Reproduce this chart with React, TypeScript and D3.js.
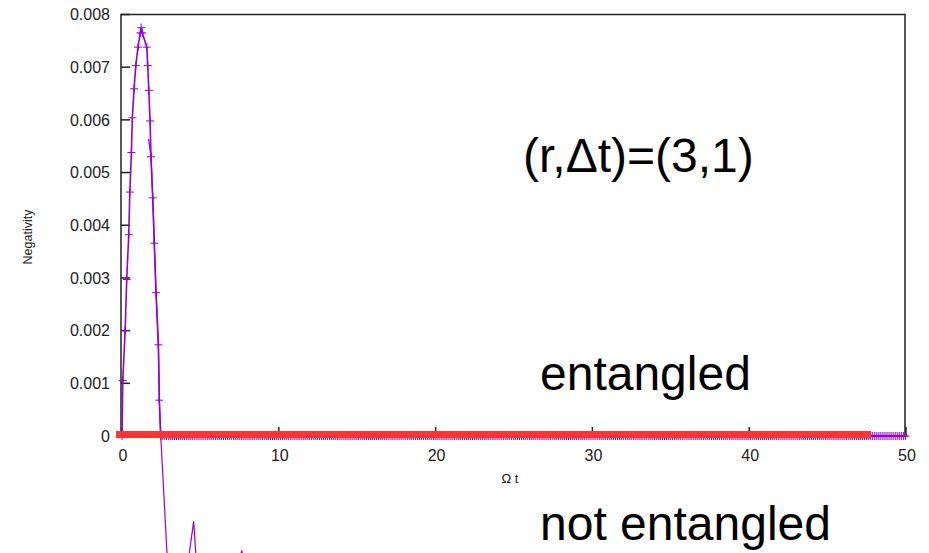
import React from "react";
import * as d3 from "d3";

// Negativity vs Ωt, main series (with + markers)
const peakX = [0, 0.05, 0.2, 0.3, 0.43, 0.5, 0.6, 0.66, 0.77, 0.88, 1.02, 1.17, 1.22, 1.3, 1.58, 1.64, 1.71, 1.79, 1.85, 1.96, 2.06, 2.17, 2.32, 2.38, 2.47];
const peakY = [0, 0.00105, 0.002, 0.00297, 0.00382, 0.00463, 0.00538, 0.00604, 0.00659, 0.00703, 0.00738, 0.00765, 0.00775, 0.00765, 0.00738, 0.00703, 0.00656, 0.00598, 0.0053, 0.00452, 0.00366, 0.00272, 0.00173, 0.00068, 0];
// after the crossing the series stays at zero, densely sampled
const zeroTailX = d3.range(2.6, 50.01, 0.125);

// thin line without markers (goes negative, below the frame)
const thinX = [1.69, 1.85, 1.96, 2.06, 2.17, 2.32, 2.38, 2.47, 3.0, 3.7, 4.57, 4.91, 6.25, 7.65, 7.91, 8.2];
const thinY = [0.00564, 0.0053, 0.00452, 0.00366, 0.00272, 0.00173, 0.00068, 0, -0.00295, -0.00352, -0.00162, -0.00314, -0.0035, -0.00217, -0.00333, -0.004];

// red "boundary" bar drawn over the zero level
const redBarX = [-0.38, 47.77];

const xTicks = [0, 10, 20, 30, 40, 50];
const yTicks = [0, 0.001, 0.002, 0.003, 0.004, 0.005, 0.006, 0.007, 0.008];

const W = 929;
const H = 553;
const PURPLE = "#9400d3";
const FONT = "'Liberation Sans', Arial, Helvetica, sans-serif";

export default function App() {
  const x = d3.scaleLinear().domain([0, 50]).range([122, 906]);
  const y = d3.scaleLinear().domain([0, 0.008]).range([436, 14.5]);

  const mainPts: [number, number][] = [
    ...peakX.map((v, i) => [v, peakY[i]] as [number, number]),
    ...zeroTailX.map((v) => [v, 0] as [number, number]),
  ];
  const thinPts: [number, number][] = thinX.map((v, i) => [v, thinY[i]]);

  const line = d3
    .line<[number, number]>()
    .x((d) => x(d[0]))
    .y((d) => y(d[1]));

  const left = x(0) - 1;
  const right = x(50) - 1;
  const top = y(0.008);
  const bottom = y(0);

  return (
    <div style={{ position: "fixed", left: 0, top: 0 }}>
      <svg width={W} height={H} style={{ display: "block", background: "#fff" }}>
        {/* frame */}
        <path
          d={`M${left},${bottom} L${left},${top} L${right},${top} L${right},${bottom} Z`}
          fill="none"
          stroke="#222"
          strokeWidth={1.5}
        />
        {/* y ticks */}
        {yTicks.map((t) => (
          <g key={t}>
            <line x1={left} x2={left + 9} y1={y(t)} y2={y(t)} stroke="#222" strokeWidth={1.5} />
            <text
              x={110}
              y={y(t)}
              dy="0.36em"
              textAnchor="end"
              fontFamily={FONT}
              fontSize={16}
              fill="#222"
            >
              {t === 0 ? "0" : t.toFixed(3)}
            </text>
          </g>
        ))}
        {/* x ticks */}
        {xTicks.map((t) => (
          <g key={t}>
            <line x1={x(t)} x2={x(t)} y1={bottom} y2={bottom - 9} stroke="#222" strokeWidth={1.5} />
            <text
              x={x(t) + 1}
              y={461}
              textAnchor="middle"
              fontFamily={FONT}
              fontSize={16}
              fill="#222"
            >
              {t}
            </text>
          </g>
        ))}
        {/* axis labels */}
        <text x={510} y={483} textAnchor="middle" fontFamily={FONT} fontSize={13} fill="#222">
          Ω t
        </text>
        <text
          transform={`translate(32,237) rotate(-90)`}
          textAnchor="middle"
          fontFamily={FONT}
          fontSize={12.5}
          fill="#222"
        >
          Negativity
        </text>

        {/* thin line */}
        <path d={line(thinPts) ?? ""} fill="none" stroke={PURPLE} strokeWidth={1.2} />
        {/* main series */}
        <path d={line(mainPts) ?? ""} fill="none" stroke={PURPLE} strokeWidth={1.6} />
        {mainPts.map((d, i) => (
          <path
            key={i}
            d={`M${x(d[0]) - 4},${y(d[1])} h8 M${x(d[0])},${y(d[1]) - 4} v8`}
            stroke={PURPLE}
            strokeWidth={1}
            fill="none"
          />
        ))}

        {/* red bar */}
        <line
          x1={x(redBarX[0])}
          x2={x(redBarX[1])}
          y1={y(0) - 1.5}
          y2={y(0) - 1.5}
          stroke="#ff3333"
          strokeWidth={7}
        />

        {/* annotations */}
        <text x={523} y={172} fontFamily={FONT} fontSize={48} fill="#000">
          (r,Δt)=(3,1)
        </text>
        <text x={540} y={390} fontFamily={FONT} fontSize={48} fill="#000">
          entangled
        </text>
        <text x={540} y={540} fontFamily={FONT} fontSize={48} fill="#000">
          not entangled
        </text>
      </svg>
    </div>
  );
}
